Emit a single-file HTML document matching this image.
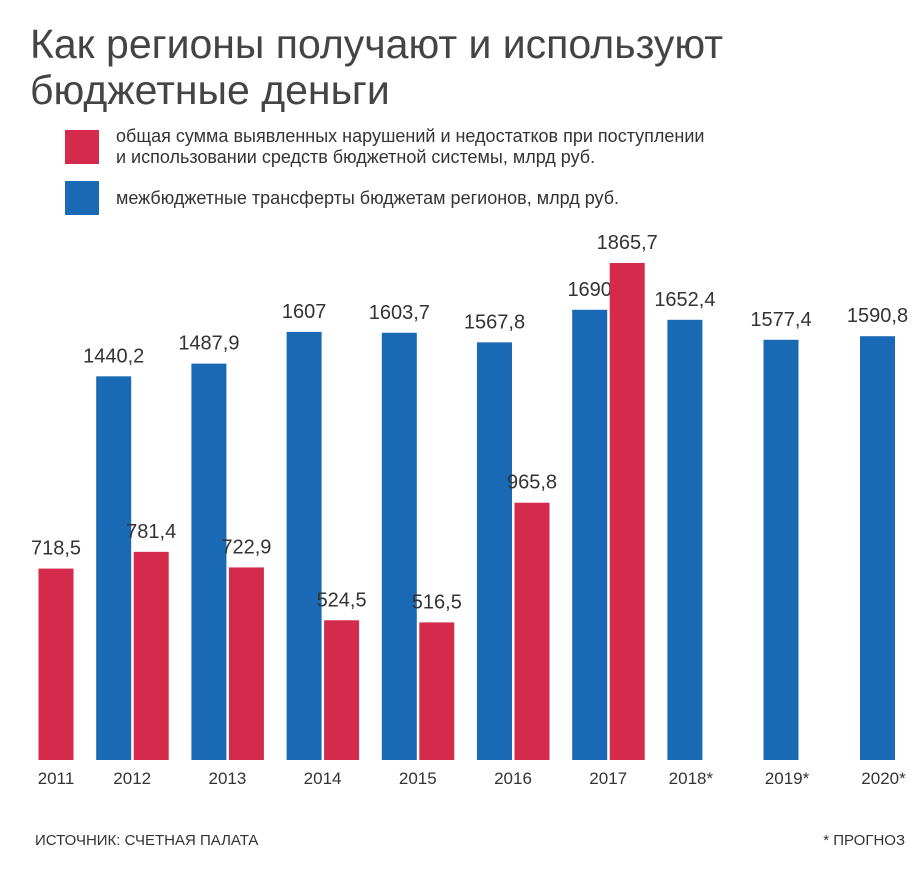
<!DOCTYPE html>
<html><head><meta charset="utf-8">
<style>
body{margin:0;background:#fff;width:921px;height:864px;overflow:hidden;font-family:"Liberation Sans","DejaVu Sans",sans-serif;}
svg text{font-family:"Liberation Sans","DejaVu Sans",sans-serif;}
</style></head>
<body>
<svg id="chart" width="921" height="864" viewBox="0 0 921 864">
<text x="30" y="58" font-size="41" fill="#444">Как регионы получают и используют</text>
<text x="30" y="104" font-size="41" fill="#444">бюджетные деньги</text>
<rect x="65" y="130" width="34" height="34" fill="#d42a4b"/>
<text x="116" y="142" font-size="18" fill="#333">общая сумма выявленных нарушений и недостатков при поступлении</text>
<text x="116" y="163" font-size="18" fill="#333">и использовании средств бюджетной системы, млрд руб.</text>
<rect x="65" y="181" width="34" height="34" fill="#1a69b4"/>
<text x="116" y="204" font-size="18" fill="#333">межбюджетные трансферты бюджетам регионов, млрд руб.</text>
<g id="bars"></g>
<text x="35" y="845" font-size="15" fill="#333">ИСТОЧНИК: СЧЕТНАЯ ПАЛАТА</text>
<text x="905" y="845" font-size="15" fill="#333" text-anchor="end">* ПРОГНОЗ</text>
</svg>
<script>
const years = ["2011","2012","2013","2014","2015","2016","2017","2018*","2019*","2020*"];
const transfers = [null,1440.2,1487.9,1607,1603.7,1567.8,1690,1652.4,1577.4,1590.8];
const violations = [718.5,781.4,722.9,524.5,516.5,965.8,1865.7,null,null,null];
const transferLabels = ["","1440,2","1487,9","1607","1603,7","1567,8","1690","1652,4","1577,4","1590,8"];
const violationLabels = ["718,5","781,4","722,9","524,5","516,5","965,8","1865,7","","",""];

const NS="http://www.w3.org/2000/svg";
const g=document.getElementById('bars');
const base=760, k=0.2664, bw=35;
function y(v){return base-v*k;}
function gx(i){return i<=7 ? 1+95.2*i : 667+96.5*(i-7);}
function mk(tag,attrs){const e=document.createElementNS(NS,tag);for(const a in attrs)e.setAttribute(a,attrs[a]);g.appendChild(e);return e;}
years.forEach((yr,i)=>{
  const x0=gx(i);
  if(transfers[i]!=null){
    const r=mk('rect',{x:x0,y:y(transfers[i]),width:bw,height:transfers[i]*k,fill:'#1a69b4'});
    
    
    const t=mk('text',{x:x0+bw/2,y:y(transfers[i])-14,'font-size':20,fill:'#333','text-anchor':'middle'});
    t.textContent=transferLabels[i];
    
    
  }
  if(violations[i]!=null){
    const rx=x0+37.5;
    const r=mk('rect',{x:rx,y:y(violations[i]),width:bw,height:violations[i]*k,fill:'#d42a4b'});
    
    
    const t=mk('text',{x:rx+bw/2,y:y(violations[i])-14,'font-size':20,fill:'#333','text-anchor':'middle'});
    t.textContent=violationLabels[i];
    
    
  }
  let cx;
  if(transfers[i]!=null && violations[i]!=null) cx=x0+bw+1;
  else if(transfers[i]!=null) cx=x0+bw/2+6;
  else cx=x0+37.5+bw/2;
  const t=mk('text',{x:cx,y:784,'font-size':17,fill:'#333','text-anchor':'middle'});
  t.textContent=yr;
  
  
});
</script>
</body></html>
